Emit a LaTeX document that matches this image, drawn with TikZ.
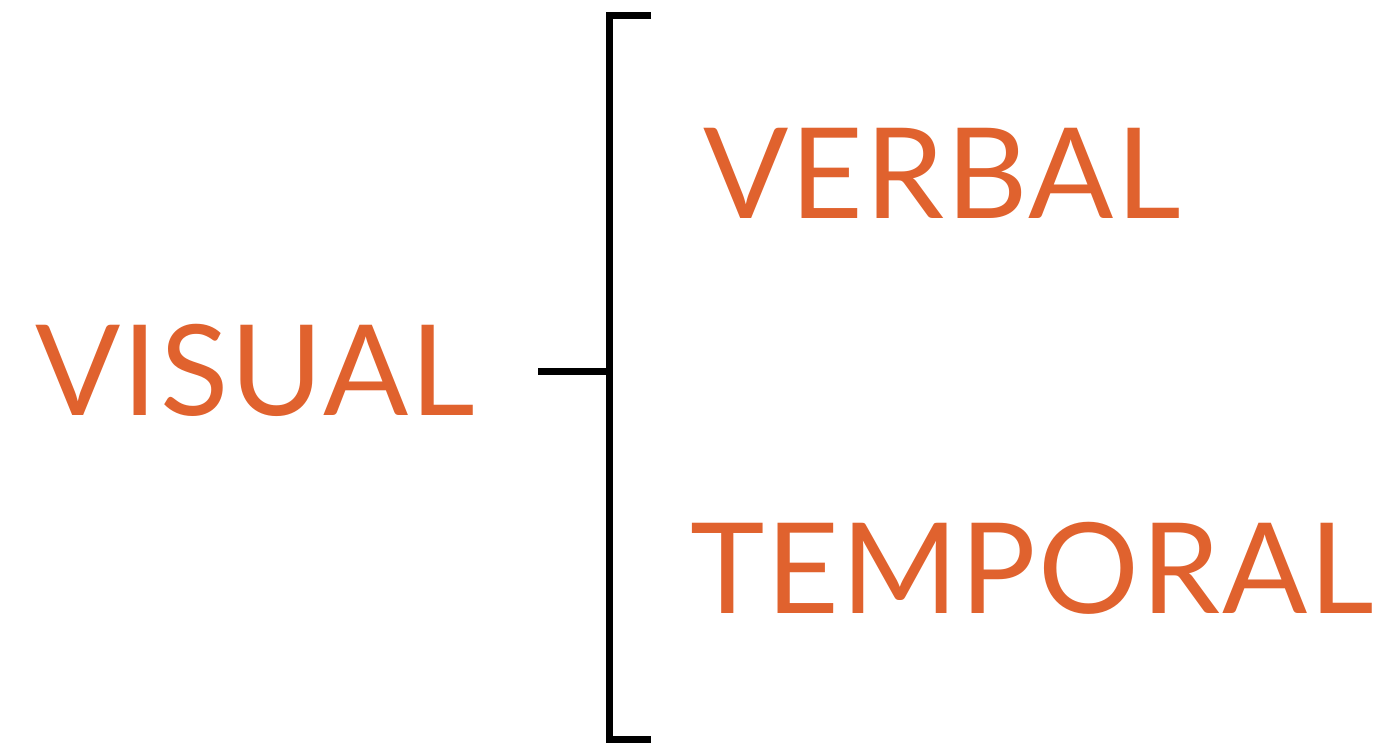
\documentclass[tikz,border=0pt]{standalone}
\usepackage{fontspec}
\setmainfont[LetterSpace=1.6]{Lato}
\usepackage{tikz}
\usetikzlibrary{positioning,calc}
\definecolor{rust}{RGB}{224,98,46}

\begin{document}
\begin{tikzpicture}[x=0.5pt, y=-0.5pt,
  word/.style={text=rust, inner sep=0pt, anchor=base west, font=\fontsize{63}{63}\selectfont},
  brack/.style={line width=3.5pt, line cap=butt}]
\useasboundingbox (0,0) rectangle (1395,744);
\node[word] (visual) at (35,415) {VISUAL};
\node[word] (verbal) at (703,218) {VERBAL};
\node[word] (temporal) at (690,613) {TEMPORAL};
% bracket
\coordinate (topend) at (651,15.5);
\coordinate (top) at (609.5,15.5);
\coordinate (mid) at (613,371.5);
\coordinate (tick) at (538,371.5);
\coordinate (bot) at (609.5,739.5);
\coordinate (botend) at (651,739.5);
\draw[brack] (topend) -- (top) -- (bot) -- (botend);
\draw[brack] (tick) -- (mid);
\end{tikzpicture}
\end{document}
